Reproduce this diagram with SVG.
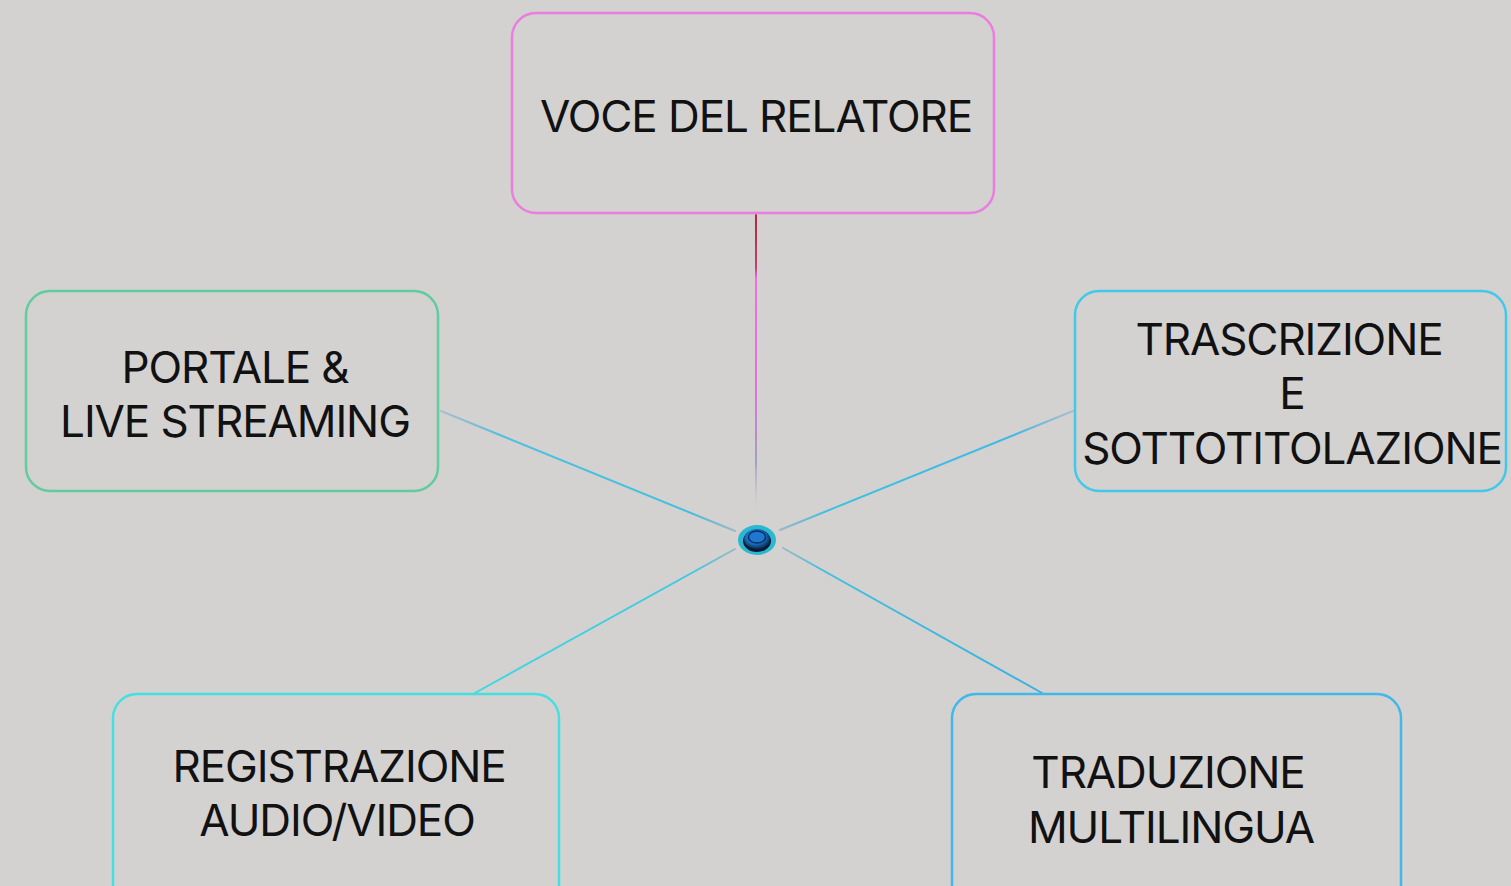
<svg xmlns="http://www.w3.org/2000/svg" width="1511" height="886" viewBox="0 0 1511 886">
<defs>
<style>
.box{fill:#d3d2d0;stroke-width:2.5}
.t{font-family:Inter,"Noto Sans","Liberation Sans",sans-serif;font-size:44px;fill:#111;text-anchor:middle;letter-spacing:-1.1px}
.c{fill:none;stroke-width:2;stroke-linecap:round}
</style>
<linearGradient id="gTop" x1="0" y1="215" x2="0" y2="505" gradientUnits="userSpaceOnUse">
<stop offset="0" stop-color="#b0283c"/>
<stop offset="0.18" stop-color="#c04070"/>
<stop offset="0.22" stop-color="#ee70e0"/>
<stop offset="0.6" stop-color="#e070e0"/>
<stop offset="0.85" stop-color="#a0a0c0"/>
<stop offset="1" stop-color="#c8c8d0" stop-opacity="0.3"/>
</linearGradient>
<linearGradient id="gL" x1="441" y1="411" x2="735" y2="531" gradientUnits="userSpaceOnUse">
<stop offset="0" stop-color="#7ab0c8" stop-opacity="0.5"/>
<stop offset="0.2" stop-color="#50c0e0"/>
<stop offset="0.85" stop-color="#40c0e0"/>
<stop offset="1" stop-color="#70a8c0" stop-opacity="0.6"/>
</linearGradient>
<linearGradient id="gR" x1="1073" y1="411" x2="780" y2="530" gradientUnits="userSpaceOnUse">
<stop offset="0" stop-color="#7ab0c8" stop-opacity="0.5"/>
<stop offset="0.2" stop-color="#40b8e8"/>
<stop offset="0.85" stop-color="#40c0e0"/>
<stop offset="1" stop-color="#70a8c0" stop-opacity="0.6"/>
</linearGradient>
<linearGradient id="gBL" x1="475" y1="693" x2="735" y2="549" gradientUnits="userSpaceOnUse">
<stop offset="0" stop-color="#40d8e0"/>
<stop offset="0.85" stop-color="#40c8e0"/>
<stop offset="1" stop-color="#70a8c0" stop-opacity="0.6"/>
</linearGradient>
<linearGradient id="gBR" x1="1042" y1="693" x2="783" y2="548" gradientUnits="userSpaceOnUse">
<stop offset="0" stop-color="#3ab0e0"/>
<stop offset="0.85" stop-color="#40c0e0"/>
<stop offset="1" stop-color="#70a8c0" stop-opacity="0.6"/>
</linearGradient>
<radialGradient id="gCore" cx="0.45" cy="0.4" r="0.6">
<stop offset="0" stop-color="#3aa8f0"/>
<stop offset="0.6" stop-color="#1a6cc0"/>
<stop offset="1" stop-color="#0a2a50"/>
</radialGradient>
</defs>
<rect width="1511" height="886" fill="#d3d2d0"/>
<g id="connectors">
<line class="c" x1="756" y1="215" x2="756" y2="505" stroke="url(#gTop)"/>
<line class="c" x1="441" y1="411" x2="735" y2="531" stroke="url(#gL)"/>
<line class="c" x1="1073" y1="411" x2="780" y2="530" stroke="url(#gR)"/>
<line class="c" x1="475" y1="693" x2="735" y2="549" stroke="url(#gBL)"/>
<line class="c" x1="1042" y1="693" x2="783" y2="548" stroke="url(#gBR)"/>
</g>
<g id="node-center">
<ellipse cx="757" cy="540" rx="19" ry="15" fill="#2ab8d0"/>
<ellipse cx="757" cy="541" rx="14" ry="11" fill="#0a1a30"/>
<ellipse cx="757" cy="539" rx="13" ry="10" fill="url(#gCore)"/>
<ellipse cx="757" cy="537" rx="8.5" ry="6" fill="#1e78d0" stroke="#0a3060" stroke-width="1.5"/>
</g>
<g id="node-voce">
<rect class="box" x="512" y="13" width="482" height="200" rx="24" stroke="#ea7ee0"/>
<text class="t" x="756" y="132">VOCE DEL RELATORE</text>
</g>
<g id="node-portale">
<rect class="box" x="26" y="291" width="412" height="200" rx="24" stroke="#60cca0"/>
<text class="t" x="235" y="383">PORTALE &amp;</text>
<text class="t" x="235" y="437">LIVE STREAMING</text>
</g>
<g id="node-trascrizione">
<rect class="box" x="1075" y="291" width="431" height="200" rx="24" stroke="#44c8e8"/>
<text class="t" x="1289" y="355">TRASCRIZIONE</text>
<text class="t" x="1292" y="409">E</text>
<text class="t" x="1292" y="464">SOTTOTITOLAZIONE</text>
</g>
<g id="node-registrazione">
<rect class="box" x="113" y="694" width="446" height="220" rx="24" stroke="#44e0e0"/>
<text class="t" x="339" y="782">REGISTRAZIONE</text>
<text class="t" x="337" y="836">AUDIO/VIDEO</text>
</g>
<g id="node-traduzione">
<rect class="box" x="952" y="694" width="449" height="220" rx="24" stroke="#40b8e8"/>
<text class="t" x="1168" y="788">TRADUZIONE</text>
<text class="t" x="1171" y="843">MULTILINGUA</text>
</g>
</svg>
